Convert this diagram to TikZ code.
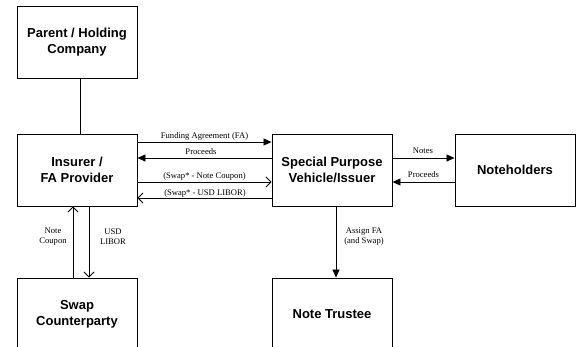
\documentclass[tikz,border=0pt]{standalone}
\usepackage{fontspec}
\setmainfont{Liberation Serif}
\setsansfont{Liberation Sans}
\usetikzlibrary{arrows.meta}
\begin{document}
\begin{tikzpicture}[x=1pt,y=-1pt,
  box/.style={draw, line width=0.9pt, minimum width=120pt, minimum height=72pt, inner sep=0pt, align=center, font=\sffamily\bfseries\fontsize{13}{16}\selectfont},
  lbl/.style={font=\fontsize{8.6}{10}\selectfont, inner sep=0pt, align=center},
  conn/.style={line width=0.8pt},
  fillarrow/.style={conn, -{Triangle[length=8pt,width=7pt]}},
  openarrow/.style={conn, -{Straight Barb[length=5pt,width=10pt,line width=0.8pt]}}]
\useasboundingbox (0,0) rectangle (576,347);
\begin{scope}
\clip (0,0) rectangle (576,347);
\node[box] (par) at (77,42) {Parent / Holding\\Company};
\node[box] (ins) at (77,170) {Insurer /\\FA Provider};
\node[box] (swp) at (77,314) {Swap\\Counterparty};
\node[box] (spv) at (332,170) {Special Purpose\\Vehicle/Issuer};
\node[box] (nh) at (515,170) {Noteholders};
\node[box] (nt) at (332,314) {Note Trustee};

\draw[conn] (par.south -| 80,0) -- (ins.north -| 80,0);

\draw[fillarrow] (ins.east |- 0,142) -- (spv.west |- 0,142);
\draw[fillarrow] (spv.west |- 0,158) -- (ins.east |- 0,158);
\draw[openarrow] (ins.east |- 0,182) -- (spv.west |- 0,182);
\draw[openarrow] (spv.west |- 0,198) -- (ins.east |- 0,198);
\node[lbl] (l1) at (204.5,136) {Funding Agreement (FA)};
\node[lbl] (l2) at (201,152) {Proceeds};
\node[lbl] (l3) at (204.5,176) {(Swap* - Note Coupon)};
\node[lbl] (l4) at (205,193) {(Swap* - USD LIBOR)};

\draw[fillarrow] (spv.east |- 0,158) -- (nh.west |- 0,158);
\draw[fillarrow] (nh.west |- 0,182) -- (spv.east |- 0,182);
\node[lbl] (l5) at (423,151) {Notes};
\node[lbl] (l6) at (423.5,175) {Proceeds};

\draw[openarrow] (swp.north -| 73,0) -- (ins.south -| 73,0);
\draw[openarrow] (ins.south -| 89,0) -- (swp.north -| 89,0);
\node[lbl] (l7) at (53,237) {Note\\Coupon};
\node[lbl] (l8) at (113,237) {USD\\LIBOR};

\draw[fillarrow] (spv.south -| 336,0) -- (nt.north -| 336,0);
\node[lbl] (l9) at (364,237) {Assign FA\\(and Swap)};
\end{scope}
\end{tikzpicture}
\end{document}
